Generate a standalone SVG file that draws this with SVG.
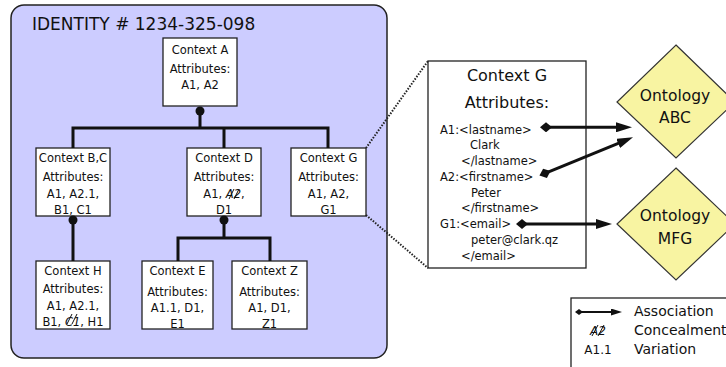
<svg xmlns="http://www.w3.org/2000/svg" width="726" height="367" viewBox="0 0 726 367">
<style>
text{font-family:"DejaVu Sans","Liberation Sans",sans-serif;fill:#111}
.n{font-size:11.5px;text-anchor:middle}
.box{fill:#fff;stroke:#222;stroke-width:1.3}
.tree{fill:none;stroke:#111;stroke-width:3}
.dot{fill:#111}
.d{font-size:11.5px}
.onto{fill:#f8f4a2;stroke:#333;stroke-width:1.2}
.ot{font-size:15.5px;text-anchor:middle}
.assoc{fill:none;stroke:#111;stroke-width:3}
.dotline{fill:none;stroke:#222;stroke-width:2;stroke-dasharray:1.5 1.5}
.strike{stroke:#111;stroke-width:1}
.lg{font-size:14px}
</style>
<defs>
<marker id="arr" viewBox="0 0 16 10" refX="4" refY="5" markerWidth="16" markerHeight="10" markerUnits="userSpaceOnUse" orient="auto"><path d="M0,0 L16,5 L0,10 z" fill="#111"/></marker>
<marker id="dia" viewBox="0 0 12 10" refX="6" refY="5" markerWidth="12" markerHeight="10" markerUnits="userSpaceOnUse" orient="auto"><path d="M0,5 L6,0 L12,5 L6,10 z" fill="#111"/></marker>
<marker id="arrS" viewBox="0 0 11 7" refX="3" refY="3.5" markerWidth="11" markerHeight="7" markerUnits="userSpaceOnUse" orient="auto"><path d="M0,0 L11,3.5 L0,7 z" fill="#111"/></marker>
<marker id="diaS" viewBox="0 0 8 6" refX="4" refY="3" markerWidth="8" markerHeight="6" markerUnits="userSpaceOnUse" orient="auto"><path d="M0,3 L4,0 L8,3 L4,6 z" fill="#111"/></marker>
</defs>

<g id="identity">
<rect x="11" y="5" width="376" height="353" rx="13" fill="#ccccff" stroke="#222" stroke-width="1.5"/>
<text x="32" y="30" style="font-size:17px">IDENTITY # 1234-325-098</text>
</g>

<g id="contextA">
<rect class="box" x="163" y="38" width="74" height="68"/>
<text class="n" x="200" y="53.5">Context A</text>
<text class="n" x="200" y="72.5">Attributes:</text>
<text class="n" x="200" y="88.5">A1, A2</text>
</g>

<g id="contextBC">
<rect class="box" x="36" y="148" width="74" height="68"/>
<text class="n" x="73" y="161.5">Context B,C</text>
<text class="n" x="73" y="181">Attributes:</text>
<text class="n" x="73" y="197.5">A1, A2.1,</text>
<text class="n" x="73" y="213.5">B1, C1</text>
</g>

<g id="contextD">
<rect class="box" x="187" y="148" width="74" height="68"/>
<text class="n" x="224" y="161.5">Context D</text>
<text class="n" x="224" y="181">Attributes:</text>
<text class="n" x="224" y="197.5">A1, <tspan font-style="italic">A2</tspan>,</text>
<line class="strike" x1="229" y1="199" x2="234" y2="189"/>
<line class="strike" x1="234" y1="199" x2="239" y2="189"/>
<text class="n" x="224" y="213.5">D1</text>
</g>

<g id="contextG">
<rect class="box" x="291" y="148" width="75" height="68"/>
<text class="n" x="328.5" y="161.5">Context G</text>
<text class="n" x="328.5" y="181">Attributes:</text>
<text class="n" x="328.5" y="197.5">A1, A2,</text>
<text class="n" x="328.5" y="213.5">G1</text>
</g>

<g id="contextH">
<rect class="box" x="36" y="261" width="74" height="68"/>
<text class="n" x="73" y="274.5">Context H</text>
<text class="n" x="73" y="293">Attributes:</text>
<text class="n" x="73" y="309.5">A1, A2.1,</text>
<text class="n" x="73" y="325.5">B1, <tspan font-style="italic">C1</tspan>, H1</text>
<line class="strike" x1="67" y1="324" x2="72" y2="314"/>
<line class="strike" x1="72" y1="324" x2="77" y2="314"/>
</g>

<g id="contextE">
<rect class="box" x="142" y="261" width="71" height="68"/>
<text class="n" x="177.5" y="274.5">Context E</text>
<text class="n" x="177.5" y="296">Attributes:</text>
<text class="n" x="177.5" y="312">A1.1, D1,</text>
<text class="n" x="177.5" y="327.5">E1</text>
</g>

<g id="contextZ">
<rect class="box" x="232" y="261" width="75" height="68"/>
<text class="n" x="269.5" y="274.5">Context Z</text>
<text class="n" x="269.5" y="296">Attributes:</text>
<text class="n" x="269.5" y="312">A1, D1,</text>
<text class="n" x="269.5" y="327.5">Z1</text>
</g>

<g id="contextG-detail">
<rect class="box" x="428" y="61" width="158" height="207"/>
<text x="507" y="80.8" style="font-size:16px;text-anchor:middle">Context G</text>
<text x="507" y="107.5" style="font-size:16px;text-anchor:middle">Attributes:</text>
<text class="d" x="440" y="134.2">A1:&lt;lastname&gt;</text>
<text class="d" x="470" y="149.2">Clark</text>
<text class="d" x="461" y="164.9">&lt;/lastname&gt;</text>
<text class="d" x="440" y="180.9">A2:&lt;firstname&gt;</text>
<text class="d" x="471" y="196.9">Peter</text>
<text class="d" x="461" y="212.2">&lt;/firstname&gt;</text>
<text class="d" x="440" y="228.2">G1:&lt;email&gt;</text>
<text class="d" x="471" y="244.2">peter@clark.qz</text>
<text class="d" x="461" y="260.2">&lt;/email&gt;</text>
</g>

<g id="ontologyABC">
<path class="onto" d="M676,45 L735,102 L676,158 L617,102 Z"/>
<text class="ot" x="675" y="100.6">Ontology</text>
<text class="ot" x="675" y="122.6">ABC</text>
</g>

<g id="ontologyMFG">
<path class="onto" d="M676,168 L735,224 L676,280 L617,224 Z"/>
<text class="ot" x="675" y="220.6">Ontology</text>
<text class="ot" x="675" y="243.6">MFG</text>
</g>

<g id="legend">
<rect x="571" y="298" width="170" height="80" fill="#fff" stroke="#222" stroke-width="1.3"/>
<line x1="579" y1="312" x2="614" y2="312" stroke="#111" stroke-width="2" marker-start="url(#diaS)" marker-end="url(#arrS)"/>
<text class="lg" x="634" y="315.8">Association</text>
<text x="598" y="334.5" style="font-size:12px;font-style:italic;text-anchor:middle">A2</text>
<line class="strike" x1="592" y1="336" x2="598" y2="325"/>
<line class="strike" x1="598" y1="336" x2="604" y2="325"/>
<text class="lg" x="634" y="335">Concealment</text>
<text x="598" y="353.5" style="font-size:12px;text-anchor:middle">A1.1</text>
<text class="lg" x="634" y="354">Variation</text>
</g>

<g id="connectors">
<path class="tree" d="M200,111 V128 M73,148 V128 H328 V148 M224,128 V148"/>
<circle class="dot" cx="200" cy="111" r="4.5"/>
<path class="tree" d="M73,220 V261"/>
<circle class="dot" cx="73" cy="220" r="4.5"/>
<path class="tree" d="M224,220 V238 M178,261 V238 H270 V261"/>
<circle class="dot" cx="224" cy="220" r="4.5"/>
<line class="dotline" x1="366" y1="148" x2="428" y2="61"/>
<line class="dotline" x1="366" y1="215" x2="428" y2="268"/>
<line class="assoc" x1="546" y1="127.3" x2="620" y2="127.3" marker-start="url(#dia)" marker-end="url(#arr)"/>
<line class="assoc" x1="545" y1="173.3" x2="621.9" y2="141.8" marker-start="url(#dia)" marker-end="url(#arr)"/>
<line class="assoc" x1="522" y1="224" x2="600" y2="224" marker-start="url(#dia)" marker-end="url(#arr)"/>
</g>
</svg>
